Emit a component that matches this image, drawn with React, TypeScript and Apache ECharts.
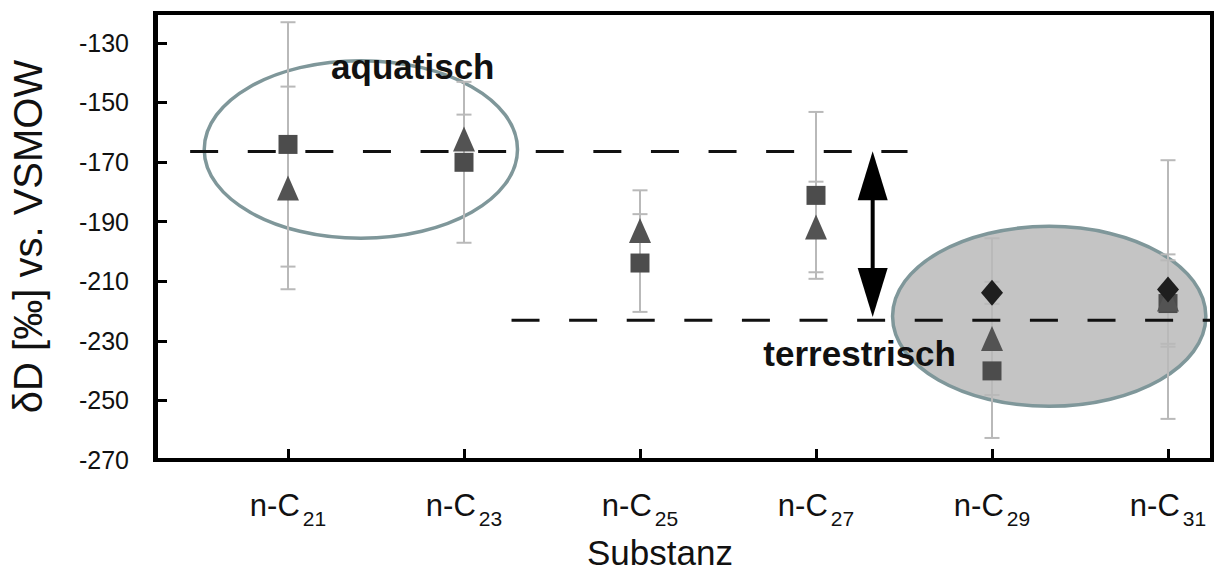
import React, { useEffect, useRef } from 'react';
import * as echarts from 'echarts';

// ---- data ----
const categories = ['21', '23', '25', '27', '29', '31'];
const categoryIdx = [0, 1, 2, 3, 4, 5];
const yTicks = [-270, -250, -230, -210, -190, -170, -150, -130];
const xRange = [-0.75, 5.25];
const yRange = [-270, -120];

const squareMeans = [-164.1, -170.1, -203.9, -181.2, -240.1, -217.5];
const squareErr = [41, 27, 16.4, 28, 22.5, 14.5];
const triangleMeans = [-178.7, -162.3, -193.0, -191.8, -229.2, -216.0];
const triangleErr = [34, 8.2, 13.5, 15.2, 19, 15];
const diamondMeans: (number | null)[] = [null, null, null, null, -213.9, -212.8];
const diamondErr: (number | null)[] = [null, null, null, null, 18.3, 43.4];

// reference levels (x from, x to, value)
const refLineFrom = [-0.556, 1.27];
const refLineTo = [3.52, 5.26];
const refLineValue = [-166.5, -223.1];

// ellipses: center x, center y, radius x, radius y
const ellipseCx = [0.414, 4.325];
const ellipseCy = [-165.8, -221.8];
const ellipseRx = [0.89, 0.89];
const ellipseRy = [29.8, 30.2];
const ellipseFilled = [false, true];

// double arrow between the two levels
const arrowX = 3.322;
const arrowTop = -166.4;
const arrowBottom = -222.0;

// annotation labels
const noteTexts = ['aquatisch', 'terrestrisch'];
const noteX = [0.709, 3.248];
const noteY = [-138.0, -234.3];

const FONT = 'Liberation Sans, Arial, sans-serif';

// plot area layout (px)
const G_LEFT = 155;
const G_TOP = 13;
const G_RIGHT = 15;
const G_BOTTOM = 114;
const W = 1227;
const H = 574;

function errData(means: (number | null)[], errs: (number | null)[]) {
  const out: number[][] = [];
  means.forEach((m, i) => {
    if (m == null || errs[i] == null) return;
    out.push([categoryIdx[i], m - (errs[i] as number), m + (errs[i] as number)]);
  });
  return out;
}
function ptData(means: (number | null)[]) {
  const out: number[][] = [];
  means.forEach((m, i) => {
    if (m == null) return;
    out.push([categoryIdx[i], m]);
  });
  return out;
}

export default function App() {
  const ref = useRef<HTMLDivElement>(null);
  useEffect(() => {
    if (!ref.current) return;
    const chart = echarts.init(ref.current, undefined, { renderer: 'svg' });

    const errRender = (params: any, api: any) => {
      const x = api.value(0);
      const lo = api.coord([x, api.value(1)]);
      const hi = api.coord([x, api.value(2)]);
      const hw = 7.5;
      const st = { stroke: '#b9b9b9', lineWidth: 2 };
      return {
        type: 'group',
        children: [
          { type: 'line', shape: { x1: hi[0], y1: hi[1], x2: lo[0], y2: lo[1] }, style: st },
          { type: 'line', shape: { x1: hi[0] - hw, y1: hi[1], x2: hi[0] + hw, y2: hi[1] }, style: st },
          { type: 'line', shape: { x1: lo[0] - hw, y1: lo[1], x2: lo[0] + hw, y2: lo[1] }, style: st },
        ],
      };
    };

    const errSeries = (means: any, errs: any) => ({
      type: 'custom',
      renderItem: errRender,
      data: errData(means, errs),
      encode: { x: 0, y: [1, 2] },
      silent: true,
      z: 3,
    });

    const pw = W - G_LEFT - G_RIGHT;
    const ph = H - G_TOP - G_BOTTOM;
    const bw = 4;

    const option: any = {
      animation: false,
      grid: {
        left: G_LEFT,
        top: G_TOP,
        right: G_RIGHT,
        bottom: G_BOTTOM,
      },
      xAxis: {
        type: 'value',
        min: xRange[0],
        max: xRange[1],
        splitLine: { show: false },
        axisLine: { show: true, onZero: false, lineStyle: { color: '#000', width: 4 } },
        axisTick: {
          show: true,
          inside: true,
          length: 11,
          lineStyle: { color: '#000', width: 3 },
          customValues: categoryIdx,
        },
        axisLabel: {
          customValues: categoryIdx,
          margin: 22,
          formatter: (v: number) => {
            const i = Math.round(v);
            return `{a|n-C}{b|${categories[i]}}`;
          },
          rich: {
            a: { fontSize: 31, fontFamily: FONT, color: '#111' },
            b: { fontSize: 21, fontFamily: FONT, color: '#111', padding: [26, 0, 0, 3] },
          },
        },
      },
      yAxis: {
        type: 'value',
        min: yRange[0],
        max: yRange[1],
        name: 'δD [‰] vs. VSMOW',
        nameLocation: 'middle',
        nameRotate: 90,
        nameGap: 108,
        nameTextStyle: { fontSize: 40, fontFamily: FONT, color: '#111' },
        splitLine: { show: false },
        axisLine: { show: true, onZero: false, lineStyle: { color: '#000', width: 4 } },
        axisTick: {
          show: true,
          inside: true,
          length: 11,
          lineStyle: { color: '#000', width: 3 },
          customValues: yTicks,
        },
        axisLabel: {
          customValues: yTicks,
          margin: 27,
          fontSize: 25,
          fontFamily: FONT,
          color: '#111',
        },
      },
      graphic: [
        {
          type: 'text',
          left: 587,
          top: 535,
          style: { text: 'Substanz', fontSize: 35, fontFamily: FONT, fill: '#111' },
        },
        {
          type: 'rect',
          z: 100,
          shape: { x: G_LEFT - bw / 2, y: G_TOP - bw / 2, width: pw + bw, height: bw },
          style: { fill: '#000' },
        },
        {
          type: 'rect',
          z: 100,
          shape: { x: G_LEFT + pw - bw / 2, y: G_TOP - bw / 2, width: bw, height: ph + bw },
          style: { fill: '#000' },
        },
        {
          type: 'rect',
          z: 100,
          shape: { x: G_LEFT - bw / 2, y: G_TOP - bw / 2, width: bw, height: ph + bw },
          style: { fill: '#000' },
        },
      ],
      series: [
        {
          type: 'custom',
          silent: true,
          z: 1,
          renderItem: (params: any, api: any) => {
            const i = params.dataIndex;
            const c = api.coord([ellipseCx[i], ellipseCy[i]]);
            const s = api.size([ellipseRx[i], ellipseRy[i]]);
            return {
              type: 'ellipse',
              shape: { cx: c[0], cy: c[1], rx: s[0], ry: s[1] },
              style: {
                fill: ellipseFilled[i] ? '#c4c4c4' : 'none',
                stroke: '#7f979a',
                lineWidth: 3.5,
              },
            };
          },
          data: ellipseCx.map((x, i) => [x, ellipseCy[i]]),
        },
        errSeries(squareMeans, squareErr),
        errSeries(triangleMeans, triangleErr),
        errSeries(diamondMeans, diamondErr),
        {
          type: 'custom',
          silent: true,
          z: 4,
          renderItem: (params: any, api: any) => {
            const i = params.dataIndex;
            const a = api.coord([refLineFrom[i], refLineValue[i]]);
            const b = api.coord([refLineTo[i], refLineValue[i]]);
            return {
              type: 'line',
              shape: { x1: a[0], y1: a[1], x2: b[0], y2: b[1] },
              style: { stroke: '#111', lineWidth: 3, lineDash: [28, 29.6] },
            };
          },
          data: refLineValue.map((v, i) => [refLineFrom[i], v]),
        },
        {
          type: 'custom',
          silent: true,
          z: 4,
          renderItem: (params: any, api: any) => {
            const t = api.coord([arrowX, arrowTop]);
            const b = api.coord([arrowX, arrowBottom]);
            const hw = 15;
            const hh = 49;
            return {
              type: 'group',
              children: [
                {
                  type: 'line',
                  shape: { x1: t[0], y1: t[1] + 30, x2: b[0], y2: b[1] - 30 },
                  style: { stroke: '#000', lineWidth: 4 },
                },
                {
                  type: 'polygon',
                  shape: { points: [[t[0], t[1]], [t[0] - hw, t[1] + hh], [t[0] + hw, t[1] + hh]] },
                  style: { fill: '#000' },
                },
                {
                  type: 'polygon',
                  shape: { points: [[b[0], b[1]], [b[0] - hw, b[1] - hh], [b[0] + hw, b[1] - hh]] },
                  style: { fill: '#000' },
                },
              ],
            };
          },
          data: [[arrowX, arrowTop]],
        },
        {
          type: 'scatter',
          symbol: 'rect',
          symbolSize: 19,
          itemStyle: { color: '#4c4c4c', opacity: 1 },
          data: ptData(squareMeans),
          z: 5,
          silent: true,
        },
        {
          type: 'scatter',
          symbol: 'triangle',
          symbolSize: [22, 25],
          itemStyle: { color: '#535353', opacity: 1 },
          data: ptData(triangleMeans),
          z: 6,
          silent: true,
        },
        {
          type: 'scatter',
          symbol: 'diamond',
          symbolSize: [22, 26],
          itemStyle: { color: '#1e1e1e', opacity: 1 },
          data: ptData(diamondMeans),
          z: 7,
          silent: true,
        },
        {
          type: 'custom',
          silent: true,
          z: 8,
          renderItem: (params: any, api: any) => {
            const i = params.dataIndex;
            const c = api.coord([noteX[i], noteY[i]]);
            return {
              type: 'text',
              x: c[0],
              y: c[1],
              style: {
                text: noteTexts[i],
                fontSize: 35,
                fontWeight: 'bold',
                fontFamily: FONT,
                fill: '#111',
                align: 'center',
                verticalAlign: 'middle',
              },
            };
          },
          data: noteX.map((x, i) => [x, noteY[i]]),
        },
      ],
    };
    chart.setOption(option);
    return () => chart.dispose();
  }, []);
  return (
    <div
      ref={ref}
      style={{ position: 'fixed', left: 0, top: 0, width: W, height: H, background: '#fff' }}
    />
  );
}
